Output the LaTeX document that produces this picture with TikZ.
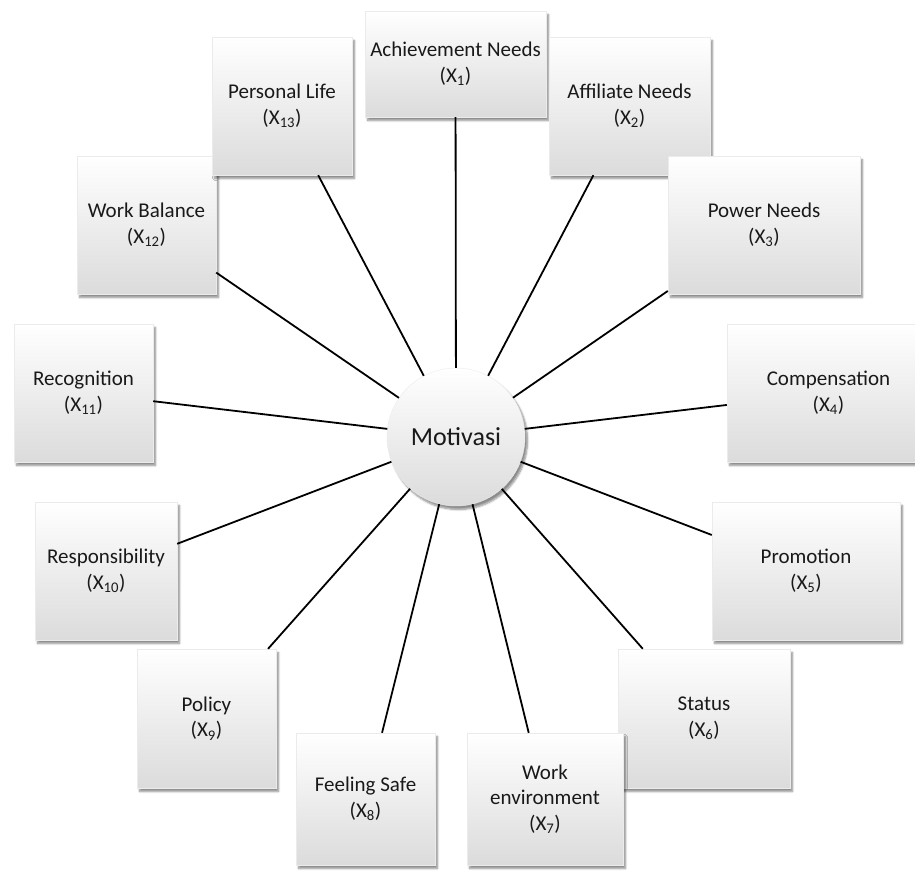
\documentclass[tikz,border=0pt]{standalone}
\usepackage{fontspec}
\setmainfont{Carlito}
\usetikzlibrary{shadows.blur}

\begin{document}
\begin{tikzpicture}[x=1pt, y=-1pt, line width=1.8pt,
        every node/.style={align=center, text=black!90, font=\fontsize{21}{25.5}\selectfont},
        box/.style={rectangle, draw=black!8, line width=0.4pt, top color=white, middle color=white!97!black, bottom color=black!14,
            minimum width=139pt, minimum height=138pt,
            blur shadow={shadow xshift=2.5pt, shadow yshift=-3.5pt, shadow blur steps=6, shadow opacity=45}},
        hub/.style={circle, draw=black!8, line width=0.4pt, top color=white, middle color=white!97!black, bottom color=black!14,
            minimum size=138pt, inner sep=0pt, font=\fontsize{26}{30}\selectfont,
            blur shadow={shadow xshift=2.5pt, shadow yshift=-3.5pt, shadow blur steps=6, shadow opacity=45}}]
    \useasboundingbox (0,0) rectangle (915,873);
    \node (m) [hub] at (456,437) {Motivasi};
    \node (x1) [box, minimum width=181pt, minimum height=106pt] at (455.5,64) {Achievement Needs\\(X\textsubscript{1})};
    \node (x2) [box, minimum width=161pt] at (629.5,106) {Affiliate Needs\\(X\textsubscript{2})};
    \node (x3) [box, minimum width=192pt] at (764,225) {Power Needs\\(X\textsubscript{3})};
    \node (x4) [box, minimum width=203pt] at (828.5,393) {Compensation\\(X\textsubscript{4})};
    \node (x5) [box, minimum width=188pt] at (806,571) {Promotion\\(X\textsubscript{5})};
    \node (x6) [box, minimum width=172pt, minimum height=139pt] at (704,718.5) {Status\\(X\textsubscript{6})};
    \node (x7) [box, minimum width=156pt, minimum height=132pt] at (545,799) {Work\\environment\\(X\textsubscript{7})};
    \node (x8) [box, minimum height=132pt] at (365.5,799) {Feeling Safe\\(X\textsubscript{8})};
    \node (x9) [box, minimum height=139pt] at (206.5,718.5) {Policy\\(X\textsubscript{9})};
    \node (x10) [box, minimum width=142pt] at (106,571) {Responsibility\\(X\textsubscript{10})};
    \node (x11) [box] at (83.5,393) {Recognition\\(X\textsubscript{11})};
    \node (x12) [box] at (146.5,225) {Work Balance\\(X\textsubscript{12})};
    \node (x13) [box, minimum width=140pt] at (282,106) {Personal Life\\(X\textsubscript{13})};
    \draw (m) -- (x1);
    \draw (m) -- (x2);
    \draw (m) -- (x3);
    \draw (m) -- (x4);
    \draw (m) -- (x5);
    \draw (m) -- (x6);
    \draw (m) -- (x7);
    \draw (m) -- (x8);
    \draw (m) -- (x9);
    \draw (m) -- (x10);
    \draw (m) -- (x11);
    \draw (m) -- (x12);
    \draw (m) -- (x13);
\end{tikzpicture}
\end{document}
